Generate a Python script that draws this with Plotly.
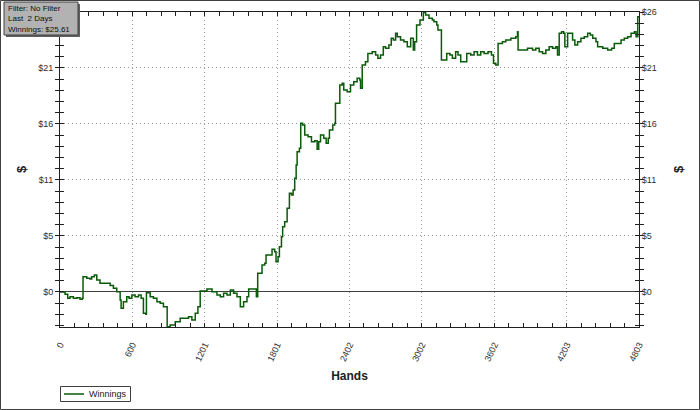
import plotly.graph_objects as go  # interactive charts

# cumulative winnings ($) against hands played
hands = [0, 42, 64, 83, 111, 139, 166, 185, 191, 222, 249, 263, 285, 305, 332, 374,
         416, 443, 471, 499, 507, 526, 554, 573, 596, 623, 651, 673, 692, 712, 717,
         748, 775, 804, 831, 858, 881, 889, 914, 956, 997, 1039, 1066, 1094, 1122,
         1144, 1163, 1191, 1219, 1261, 1302, 1330, 1357, 1385, 1413, 1440, 1468,
         1496, 1523, 1551, 1565, 1606, 1629, 1640, 1662, 1676, 1698, 1709, 1745,
         1759, 1781, 1792, 1809, 1820, 1837, 1847, 1864, 1884, 1903, 1920, 1934,
         1947, 1959, 1967, 1986, 1997, 2013, 2030, 2058, 2086, 2113, 2133, 2146,
         2161, 2188, 2208, 2225, 2235, 2263, 2279, 2285, 2304, 2321, 2341, 2354,
         2382, 2410, 2437, 2465, 2487, 2493, 2507, 2534, 2554, 2590, 2618, 2637,
         2659, 2682, 2701, 2728, 2748, 2765, 2784, 2798, 2825, 2853, 2881, 2909,
         2931, 2942, 2958, 2986, 3014, 3033, 3061, 3089, 3102, 3125, 3135, 3152,
         3164, 3185, 3208, 3235, 3255, 3282, 3302, 3324, 3351, 3374, 3407, 3435,
         3463, 3490, 3518, 3551, 3579, 3596, 3615, 3634, 3670, 3698, 3740, 3781,
         3795, 3800, 3837, 3878, 3920, 3947, 3975, 4003, 4030, 4058, 4086, 4113,
         4127, 4141, 4161, 4178, 4188, 4211, 4232, 4252, 4271, 4294, 4321, 4349,
         4377, 4399, 4419, 4446, 4460, 4502, 4543, 4576, 4598, 4626, 4654, 4681,
         4709, 4737, 4765, 4779, 4793, 4803]
winnings = [0.00, -0.21, -0.59, -0.44, -0.59, -0.53, -0.68, -0.59, 1.42, 1.27, 1.21,
            1.42, 1.58, 1.12, 0.81, 0.81, 0.59, 0.34, 0.03, -0.74, -1.52, -0.90,
            -0.44, -0.59, -0.28, -0.44, -0.28, -0.59, -1.98, -2.07, -0.07, -0.44,
            -0.59, -0.90, -1.05, -1.37, -1.37, -3.23, -3.07, -2.76, -2.45, -2.45,
            -2.30, -2.60, -1.98, -1.37, 0.09, 0.09, 0.28, 0.03, -0.28, -0.44, -0.12,
            -0.28, 0.19, -0.12, -0.44, -1.37, -0.90, -0.44, 0.28, 0.28, -0.44, 1.74,
            1.74, 2.51, 2.67, 3.44, 3.44, 3.97, 3.75, 2.82, 3.28, 4.21, 5.14, 6.07,
            6.54, 7.79, 9.18, 9.02, 9.49, 10.58, 11.81, 13.05, 13.37, 15.69, 15.53,
            14.60, 14.45, 13.98, 14.07, 13.27, 13.98, 14.60, 14.30, 13.83, 14.30,
            15.07, 15.53, 15.69, 17.55, 17.55, 19.26, 19.41, 18.79, 18.63, 19.26,
            19.56, 19.88, 19.72, 18.95, 21.12, 21.42, 22.20, 22.35, 22.05, 21.74,
            22.05, 22.82, 22.67, 22.98, 23.60, 23.44, 24.07, 23.75, 23.44, 23.28,
            22.82, 23.60, 22.51, 23.28, 24.84, 25.30, 26.00, 25.77, 25.46, 25.30,
            25.14, 24.84, 24.37, 24.37, 21.58, 21.58, 22.20, 22.05, 21.74, 22.35,
            22.05, 21.42, 21.42, 22.20, 22.05, 22.35, 22.05, 22.35, 22.20, 22.35,
            22.05, 21.27, 21.12, 23.13, 23.28, 23.44, 23.60, 23.75, 24.21, 22.51,
            22.51, 22.67, 22.51, 22.67, 22.35, 22.20, 22.51, 22.82, 22.67, 22.82,
            22.05, 24.07, 24.21, 24.07, 22.82, 24.07, 24.07, 23.44, 22.98, 23.28,
            23.60, 23.75, 24.07, 23.91, 23.60, 23.28, 22.82, 22.67, 22.51, 22.67,
            23.13, 23.13, 23.44, 23.60, 23.75, 24.07, 24.21, 23.75, 25.61, 25.61]

# axis ticks
x_ticks = [0, 600, 1201, 1801, 2402, 3002, 3602, 4203, 4803]
y_step = 5.21
y_ticks = [0, y_step, 2 * y_step, 3 * y_step, 4 * y_step, 5 * y_step]
y_labels = ['$0', '$5', '$11', '$16', '$21', '$26']
y_range = [-3.26, 26.05]
series_name = 'Winnings'
filter_lines = ['Filter: No Filter', 'Last\u00a0 2 Days', 'Winnings: $25.61']

W, H = 700, 410
L, R, T, B = 60, 61, 12, 83
pw, ph = W - L - R, H - T - B


def px(x):  # pixel -> paper x
    return (x - L) / pw


def py(y):  # pixel -> paper y
    return (H - B - y) / ph


font = 'Liberation Sans'
line_color = '#0a5a0a'
grid_dash = '1px,3px'
x_minor = [x_ticks[-1] * i / 40 for i in range(41)]
y_minor = [y_step * i / 5 for i in range(-3, 26)]

fig = go.Figure()
fig.add_trace(go.Scatter(x=hands, y=winnings, mode='lines', name=series_name,
                         line=dict(color=line_color, width=1.5, shape='hv')))
# invisible twin for the right-hand axis
fig.add_trace(go.Scatter(x=[hands[0]], y=[winnings[0]], yaxis='y2', mode='lines',
                         showlegend=False, hoverinfo='skip',
                         line=dict(color='rgba(0,0,0,0)')))

axis_common = dict(showline=True, linecolor='#202020', linewidth=1,
                   tickcolor='#202020', ticklen=4, tickwidth=1, automargin=False,
                   tickfont=dict(family=font, size=9, color='#303030'))

fig.update_layout(
    width=W, height=H, margin=dict(l=L, r=R, t=T, b=B, autoexpand=False),
    paper_bgcolor='white', plot_bgcolor='white', showlegend=False,
    font=dict(family=font, size=9, color='#303030'),
    xaxis=dict(range=[0, x_ticks[-1]], tickmode='array', tickvals=x_ticks,
               ticktext=[str(v) for v in x_ticks], tickangle=-65,
               ticks='inside', mirror='ticks', ticklabelstandoff=8,
               showgrid=True, gridcolor='#9a9a9a', griddash=grid_dash, gridwidth=1,
               zeroline=False,
               minor=dict(tickmode='array', tickvals=x_minor, ticks='inside',
                          ticklen=4, tickcolor='#202020', showgrid=False),
               title=dict(text='<b>Hands</b>', font=dict(family=font, size=12,
                                                        color='#202020'),
                          standoff=9),
               **axis_common),
    # top-left label sits under the filter box in the reference
    yaxis=dict(range=y_range, tickmode='array', tickvals=y_ticks,
               ticktext=y_labels[:-1] + [''], ticks='outside', mirror='ticks',
               showgrid=True, gridcolor='#9a9a9a', griddash=grid_dash, gridwidth=1,
               zeroline=True, zerolinecolor='#404040', zerolinewidth=1,
               minor=dict(tickmode='array', tickvals=y_minor, ticks='outside',
                          ticklen=4, tickcolor='#202020', showgrid=False),
               title=dict(text='<b>$</b>', font=dict(family=font, size=13,
                                                    color='#202020'),
                          standoff=8),
               **axis_common),
    yaxis2=dict(range=y_range, overlaying='y', side='right', tickmode='array',
                tickvals=y_ticks, ticktext=y_labels, ticks='inside',
                mirror='ticks', showgrid=False, zeroline=False,
                minor=dict(tickmode='array', tickvals=y_minor, ticks='inside',
                           ticklen=4, tickcolor='#202020', showgrid=False),
                title=dict(text='<b>$</b>', font=dict(family=font, size=13,
                                                     color='#202020'),
                           standoff=18),
                **axis_common),
)

# outer frame of the picture
fig.add_shape(type='rect', xref='paper', yref='paper', x0=px(0.5), x1=px(W - 0.5),
              y0=py(H - 0.5), y1=py(0.5), line=dict(color='#404040', width=1),
              layer='below')

# filter info box with a drop shadow
fig.add_shape(type='rect', xref='paper', yref='paper', x0=px(6), x1=px(80),
              y0=py(37), y1=py(4), fillcolor='#606060', line=dict(width=0),
              layer='above')
fig.add_shape(type='rect', xref='paper', yref='paper', x0=px(4), x1=px(78),
              y0=py(35), y1=py(2), fillcolor='#b2b2b2',
              line=dict(color='#404040', width=1), layer='above')
fig.add_annotation(xref='paper', yref='paper', x=px(7), y=py(3), xanchor='left',
                   yanchor='top', align='left', showarrow=False, borderpad=0,
                   text='<br>'.join(filter_lines),
                   font=dict(family=font, size=8, color='#101010'))

# small legend box under the axis
fig.add_shape(type='rect', xref='paper', yref='paper', x0=px(60.5), x1=px(130.5),
              y0=py(401.5), y1=py(386.5), fillcolor='white',
              line=dict(color='#404040', width=1))
fig.add_shape(type='line', xref='paper', yref='paper', x0=px(64), x1=px(84),
              y0=py(394), y1=py(394), line=dict(color=line_color, width=1.5))
fig.add_annotation(xref='paper', yref='paper', x=px(88), y=py(394), xanchor='left',
                   yanchor='middle', showarrow=False, borderpad=0, text=series_name,
                   font=dict(family=font, size=9, color='#202020'))

fig.write_html("out.html", post_script="document.body.style.margin='0';",
               config={'displayModeBar': False})
